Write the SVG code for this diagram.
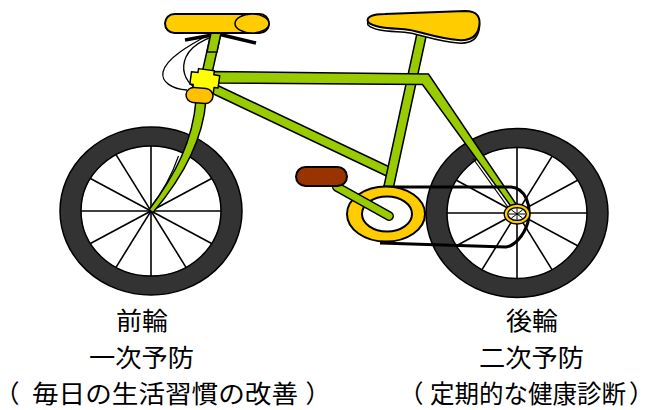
<svg xmlns="http://www.w3.org/2000/svg" width="653" height="410" viewBox="0 0 653 410">
  <style>
    .tire { fill: #333333; stroke: #000; stroke-width: 1.5; }
    .rim { fill: #fff; stroke: #000; stroke-width: 1.5; }
    .spoke { stroke: #000; stroke-width: 1.6; }
    .tubeOut { stroke: #000; stroke-width: 11; stroke-linecap: round; fill: none; }
    .tubeIn { stroke: #99CC00; stroke-width: 8; stroke-linecap: round; fill: none; }
    .green { fill: #99CC00; stroke: #000; stroke-width: 1.5; stroke-linejoin: miter; }
    .label { font-family: "Noto Sans CJK JP", "Noto Sans CJK SC", sans-serif; font-size: 25px; fill: #000; }
    .half { font-feature-settings: "halt"; }
  </style>

  <!-- front wheel -->
  <g id="front-wheel">
    <ellipse class="tire" cx="151" cy="211" rx="91" ry="84"/>
    <ellipse class="rim" cx="151" cy="211" rx="70" ry="65"/>
    <g class="spoke">
      <line x1="81" y1="211" x2="221" y2="211"/>
      <line x1="90.4" y1="178.5" x2="211.6" y2="243.5"/>
      <line x1="116" y1="154.7" x2="186" y2="267.3"/>
      <line x1="151" y1="146" x2="151" y2="276"/>
      <line x1="186" y1="154.7" x2="116" y2="267.3"/>
      <line x1="211.6" y1="178.5" x2="90.4" y2="243.5"/>
    </g>
    <circle cx="151" cy="211" r="2.2" fill="#000"/>
  </g>

  <!-- rear wheel -->
  <g id="rear-wheel">
    <ellipse class="tire" cx="517" cy="213" rx="91" ry="84.5"/>
    <ellipse class="rim" cx="517" cy="213" rx="70" ry="65.5"/>
    <g class="spoke">
      <line x1="447" y1="213" x2="587" y2="213"/>
      <line x1="456.4" y1="180.3" x2="577.6" y2="245.7"/>
      <line x1="482" y1="156.3" x2="552" y2="269.7"/>
      <line x1="517" y1="147.5" x2="517" y2="278.5"/>
      <line x1="552" y1="156.3" x2="482" y2="269.7"/>
      <line x1="577.6" y1="180.3" x2="456.4" y2="245.7"/>
    </g>
  </g>

  <!-- frame -->
  <g id="frame">
    <!-- down tube -->
    <line class="tubeOut" x1="212" y1="88" x2="387" y2="171"/>
    <line class="tubeIn" x1="212" y1="88" x2="387" y2="171"/>
    <!-- seat tube and post -->
    <line class="tubeOut" x1="423" y1="28" x2="388" y2="190" stroke-linecap="butt"/>
    <line class="tubeIn" x1="423" y1="28" x2="388" y2="190" stroke-linecap="butt"/>
    <!-- top tube and seat stay -->
    <path class="green" d="M212,71.5 L428.5,74 L517,205.5 L512.5,208.5 L422.5,84.5 L212,83 Z"/>
    <line x1="473" y1="158.5" x2="510" y2="210" stroke="#000" stroke-width="1.2"/>
    <!-- steerer and fork -->
    <path class="green" d="M211,33 L196,100 C193,140 176,174 149,209.5 L153,212.5 C184,176 203,140 206,100 L221,33 Z"/>
    <path d="M178.5,156 C172,175 162,193 149,210" fill="none" stroke="#000" stroke-width="1.2"/>
  </g>

  <!-- chain -->
  <g id="connectors">
    <path d="M383,187 L511,187 C525,188 532,205 528,222 C524,236 514,246 506,247 L380,243" fill="none" stroke="#000" stroke-width="3" stroke-linejoin="round"/>
  </g>

  <!-- rear hub -->
  <g id="rear-hub">
    <ellipse cx="517" cy="214" rx="11" ry="8.2" fill="#fff" stroke="#000" stroke-width="5"/>
    <ellipse cx="517" cy="214" rx="11" ry="8.2" fill="none" stroke="#FFCC00" stroke-width="2.2"/>
    <g stroke="#000" stroke-width="1">
      <line x1="509" y1="214" x2="525" y2="214"/>
      <line x1="517" y1="208" x2="517" y2="220"/>
      <line x1="511.5" y1="210" x2="522.5" y2="218"/>
      <line x1="522.5" y1="210" x2="511.5" y2="218"/>
    </g>
  </g>

  <!-- chainring, crank and pedal -->
  <g id="chainring">
    <ellipse cx="386" cy="214" rx="39" ry="27.5" fill="#FFCC00" stroke="#000" stroke-width="2"/>
    <ellipse cx="387" cy="214" rx="25" ry="17.5" fill="#fff" stroke="#000" stroke-width="2"/>
  </g>
  <g id="crank">
    <line class="tubeOut" x1="337" y1="187" x2="389" y2="216" style="stroke-width:10"/>
    <line class="tubeIn" x1="337" y1="187" x2="389" y2="216" style="stroke-width:7"/>
  </g>
  <g id="pedal">
    <rect x="296" y="167" width="51" height="19" rx="9.5" fill="#993300" stroke="#000" stroke-width="2"/>
  </g>

  <!-- saddle -->
  <g id="saddle">
    <path d="M368,25 C366,20 372,17 385,17 L465,14 C478,14 481,21 479,30 C477,40 470,44 458,43 C440,42 425,36 410,33 C395,31 375,32 368,25 Z" fill="#fff" stroke="#000" stroke-width="1.5"/>
    <path d="M368,22 C366,17 372,14 385,14 L465,11 C478,11 481,18 479,27 C477,37 470,41 458,40 C440,39 425,33 410,30 C395,28 375,29 368,22 Z" fill="#FFCC00" stroke="#000" stroke-width="2"/>
  </g>

  <!-- handlebar -->
  <g id="handlebar">
    <path d="M210,34 C190,45 166,58 163,72 C161,82 172,89 187,90" fill="none" stroke="#000" stroke-width="1.3"/>
    <path d="M236,32 C215,33 192,43 186,57 C181,68 184,80 195,88" fill="none" stroke="#000" stroke-width="1.3"/>
    <polyline points="185,40 218,34 256,43" fill="none" stroke="#000" stroke-width="3.5" stroke-linejoin="round"/>
    <path d="M211,33 L207,52 L217,52 L221,33 Z" fill="#99CC00" stroke="#000" stroke-width="1.5"/>
    <rect x="165" y="14" width="104" height="19" rx="9.5" fill="#FFCC00" stroke="#000" stroke-width="2"/>
    <ellipse cx="252" cy="23.5" rx="17" ry="9.5" fill="#FFCC00" stroke="#000" stroke-width="1.5"/>
  </g>

  <!-- head clamp and collar -->
  <g id="clamp">
    <path d="M197,69.5 L213,69.5 L213,73.5 L219,73.5 L219,86 L215,86 L215,91.5 L194,91.5 L194,86 L190.5,86 L190.5,73.5 L197,73.5 Z" transform="rotate(8 204 80)" fill="#FFFF00" stroke="#000" stroke-width="1.5" stroke-linejoin="round"/>
  </g>
  <g id="collar">
    <rect x="186" y="88" width="27" height="15" rx="7.5" transform="rotate(5 199.5 95.5)" fill="#FFC000" stroke="#000" stroke-width="1.5"/>
  </g>

  <!-- labels -->
  <g id="front-label" class="label">
    <text x="142" y="330" text-anchor="middle" textLength="52" lengthAdjust="spacingAndGlyphs">前輪</text>
    <text x="141.5" y="366.5" text-anchor="middle" textLength="105" lengthAdjust="spacingAndGlyphs">一次予防</text>
    <text y="403"><tspan class="half" x="7">（</tspan><tspan x="32" textLength="266" lengthAdjust="spacingAndGlyphs">毎日の生活習慣の改善</tspan><tspan class="half" x="305.5">）</tspan></text>
  </g>
  <g id="rear-label" class="label">
    <text x="532" y="330" text-anchor="middle" textLength="52" lengthAdjust="spacingAndGlyphs">後輪</text>
    <text x="531.5" y="366.5" text-anchor="middle" textLength="105" lengthAdjust="spacingAndGlyphs">二次予防</text>
    <text y="403"><tspan class="half" x="411">（</tspan><tspan x="430" textLength="196" lengthAdjust="spacingAndGlyphs">定期的な健康診断</tspan><tspan class="half" x="629">）</tspan></text>
  </g>
</svg>
